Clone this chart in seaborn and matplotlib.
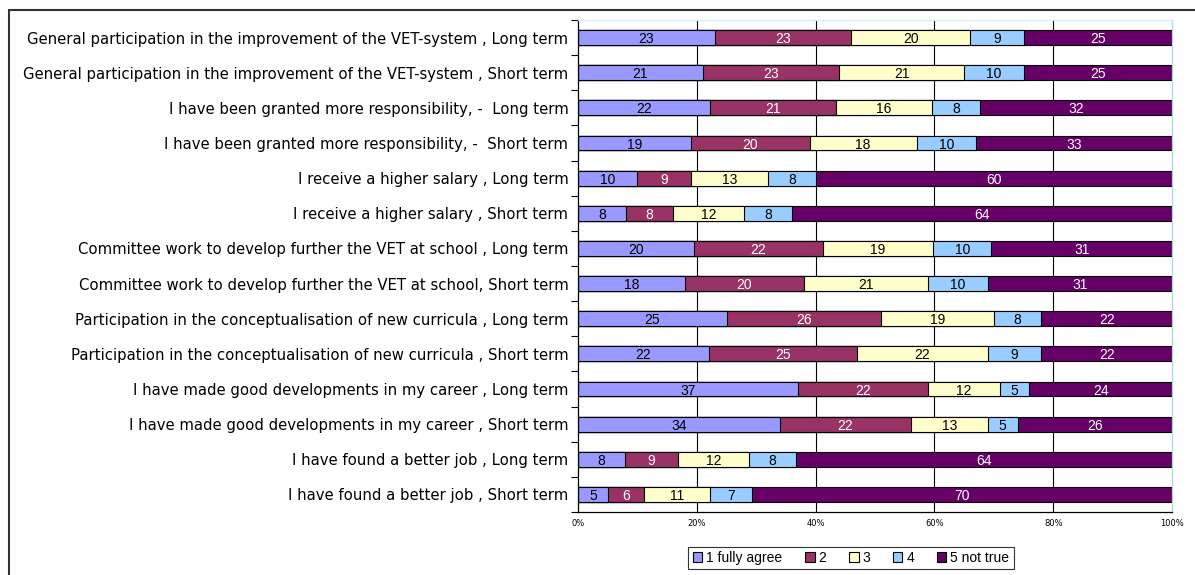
import matplotlib
matplotlib.use("Agg")
import matplotlib.pyplot as plt
from matplotlib.patches import Patch, Rectangle
import numpy as np
import pandas as pd
import seaborn as sns

categories = [
    "General participation in the improvement of the VET-system , Long term",
    "General participation in the improvement of the VET-system , Short term",
    "I have been granted more responsibility, -  Long term",
    "I have been granted more responsibility, -  Short term",
    "I receive a higher salary , Long term",
    "I receive a higher salary , Short term",
    "Committee work to develop further the VET at school , Long term",
    "Committee work to develop further the VET at school, Short term",
    "Participation in the conceptualisation of new curricula , Long term",
    "Participation in the conceptualisation of new curricula , Short term",
    "I have made good developments in my career , Long term",
    "I have made good developments in my career , Short term",
    "I have found a better job , Long term",
    "I have found a better job , Short term",
]
fully_agree = [23, 21, 22, 19, 10, 8, 20, 18, 25, 22, 37, 34, 8, 5]
two = [23, 23, 21, 20, 9, 8, 22, 20, 26, 25, 22, 22, 9, 6]
three = [20, 21, 16, 18, 13, 12, 19, 21, 19, 22, 12, 13, 12, 11]
four = [9, 10, 8, 10, 8, 8, 10, 10, 8, 9, 5, 5, 8, 7]
not_true = [25, 25, 32, 33, 60, 64, 31, 31, 22, 22, 24, 26, 64, 70]

series_names = ["1 fully agree", "2", "3", "4", "5 not true"]
colors = ["#9999FF", "#993366", "#FFFFCC", "#99CCFF", "#660066"]
text_colors = ["black", "white", "black", "black", "white"]

df = pd.DataFrame(
    {"1 fully agree": fully_agree, "2": two, "3": three, "4": four, "5 not true": not_true},
    index=categories,
)
pct = df.div(df.sum(axis=1), axis=0) * 100
cum = pct.cumsum(axis=1)

sns.set_style("white")
plt.rcParams["font.family"] = ["DejaVu Sans"]
plt.rcParams["text.color"] = "black"
plt.rcParams["xtick.color"] = "black"
plt.rcParams["ytick.color"] = "black"

fig = plt.figure(figsize=(11.95, 5.75), dpi=100)
ax = fig.add_axes([578 / 1195, 1 - 512 / 575, (1172 - 578) / 1195, (512 - 20) / 575])

# gridlines behind bars
for g in [20, 40, 60, 80]:
    ax.axvline(g, color="black", lw=0.8, zorder=0)

# stacked bars: draw cumulative totals from the right-most series down
for i in range(len(series_names) - 1, -1, -1):
    sns.barplot(x=cum.iloc[:, i].values, y=categories, orient="h", color=colors[i],
                saturation=1, edgecolor="black", linewidth=0.8, width=0.42, ax=ax, zorder=2)

# value labels
for i, name in enumerate(series_names):
    left = cum.iloc[:, i] - pct.iloc[:, i]
    for j, cat in enumerate(categories):
        ax.text(left.iloc[j] + pct.iloc[j, i] / 2, j, str(df.iloc[j, i]), ha="center",
                va="center_baseline", fontsize=10, family="Liberation Sans",
                color=text_colors[i], zorder=3)

ax.set_xlim(0, 100)
ax.set_ylim(len(categories) - 0.5, -0.5)
ax.set_xticks([0, 20, 40, 60, 80, 100])
ax.set_xticklabels(["0%", "20%", "40%", "60%", "80%", "100%"], fontsize=6)
ax.tick_params(axis="x", length=0, pad=5)
ax.set_yticks(range(len(categories)))
ax.set_yticklabels(categories, fontsize=10.7)
ax.set_yticks(np.arange(-0.5, len(categories), 1), minor=True)
ax.tick_params(axis="y", which="major", length=0, pad=7)
ax.tick_params(axis="y", which="minor", length=5, width=0.8, color="black", left=True)
ax.set_xlabel("")
ax.set_ylabel("")

ax.spines["left"].set_color("black")
ax.spines["bottom"].set_color("black")
ax.spines["top"].set_color("#CCF0F0")
ax.spines["right"].set_color("#A8D8D8")
for s in ax.spines.values():
    s.set_linewidth(0.9)

handles = [Patch(facecolor=c, edgecolor="black", linewidth=0.8) for c in colors]
leg = fig.legend(handles, series_names, loc="center", bbox_to_anchor=(851 / 1195, 1 - 558 / 575),
                 ncol=5, frameon=True, fancybox=False, handlelength=0.7,
                 prop={"family": "Liberation Sans", "size": 10},
                 handleheight=0.7, handletextpad=0.3, columnspacing=1.6, borderpad=0.3)
leg.get_frame().set_edgecolor("black")
leg.get_frame().set_linewidth(0.8)

# outer chart border (cut off at right and bottom)
fig.patches.append(Rectangle((9 / 1195, -0.1), 1.1, 1.1 - 10 / 575,
                             transform=fig.transFigure, fill=False, edgecolor="#333333", lw=1.5))

fig.savefig("out.png", dpi=100)
